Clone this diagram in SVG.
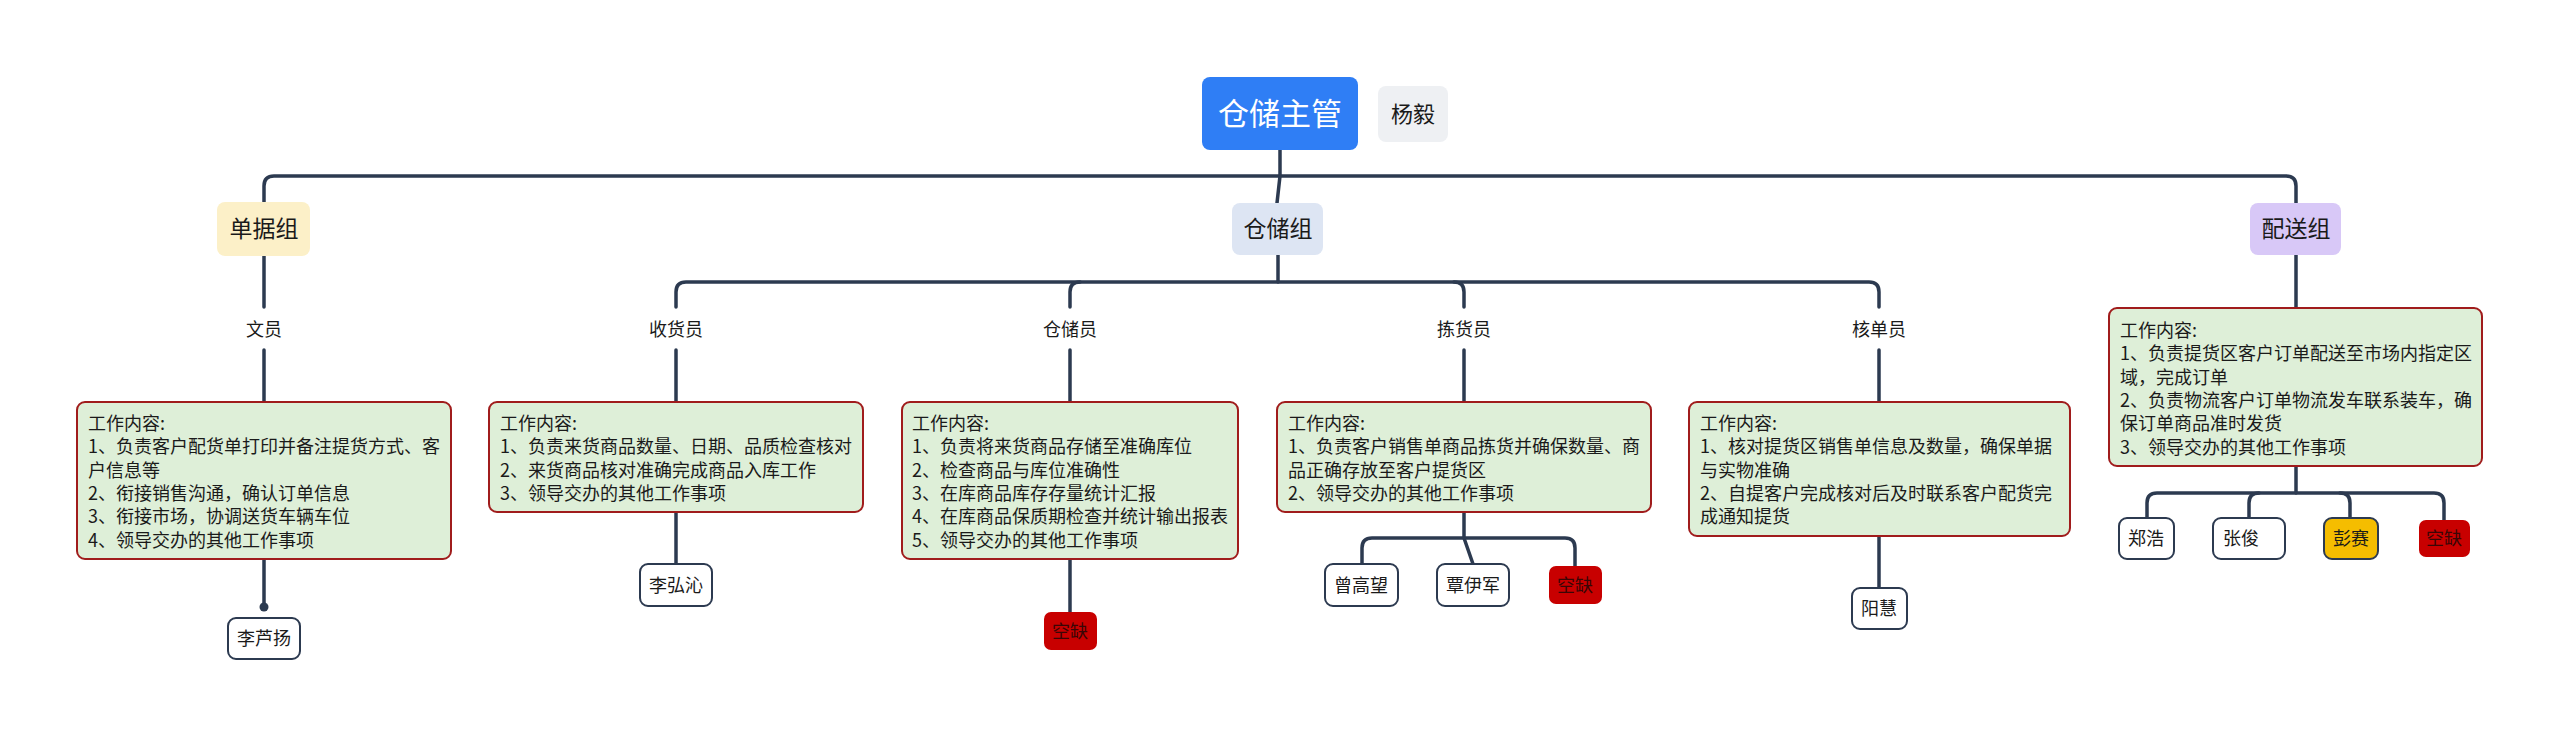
<svg xmlns="http://www.w3.org/2000/svg" width="2560" height="738" viewBox="0 0 2560 738">
<defs>
<style>
text{font-family:"Noto Sans CJK SC","Noto Sans",sans-serif;fill:#1a1a1a}
.c{fill:none;stroke:#2c3a50;stroke-width:3.5;stroke-linecap:round;stroke-linejoin:round}
.det{fill:#deefd8;stroke:#a01c1c;stroke-width:2}
.dt{font-size:18px}
.nm{fill:#ffffff;stroke:#2c3a50;stroke-width:2}
.nt{font-size:18px;text-anchor:middle}
.gap{fill:#c80000}
.gt{font-size:18px;text-anchor:middle;fill:#3a0606}
.role{font-size:18px;text-anchor:middle}
.grp{font-size:23px;text-anchor:middle}
</style>
</defs>
<rect width="2560" height="738" fill="#ffffff"/>

<g id="connectors">
<path class="c" d="M264,202 V186 Q264,176 274,176 H2286 Q2296,176 2296,186 V203"/>
<path class="c" d="M1280,150 V176 L1277,203"/>
<path class="c" d="M264,256 V307 M264,350 V402 M264,559 V607"/>
<circle cx="264" cy="607" r="4.5" fill="#2c3a50"/>
<path class="c" d="M1278,255 V282"/>
<path class="c" d="M676,307 V292 Q676,282 686,282 H1869 Q1879,282 1879,292 V307"/>
<path class="c" d="M1080,282 Q1070,282 1070,292 V307"/>
<path class="c" d="M1454,282 Q1464,282 1464,292 V307"/>
<path class="c" d="M676,350 V402 M1070,350 V402 M1464,350 V402 M1879,350 V402"/>
<path class="c" d="M676,512 V564"/>
<path class="c" d="M1070,559 V612"/>
<path class="c" d="M1464,512 V538 L1473,564"/>
<path class="c" d="M1362,564 V548 Q1362,538 1372,538 H1565 Q1575,538 1575,548 V566"/>
<path class="c" d="M1879,536 V588"/>
<path class="c" d="M2296,255 V308 M2296,466 V493"/>
<path class="c" d="M2147,518 V503 Q2147,493 2157,493 H2434 Q2444,493 2444,503 V520"/>
<path class="c" d="M2249,518 V503 Q2249,493 2259,493"/>
<path class="c" d="M2350,518 V503 Q2350,493 2340,493"/>
</g>

<g id="root">
<rect x="1202" y="77" width="156" height="73" rx="8" fill="#2f7ef5"/>
<text x="1280" y="125" font-size="31" text-anchor="middle" style="fill:#ffffff">仓储主管</text>
</g>
<g id="root-note">
<rect x="1378" y="86" width="70" height="56" rx="8" fill="#eef0f3"/>
<text x="1413" y="122" font-size="22" text-anchor="middle">杨毅</text>
</g>

<g id="group-docs">
<rect x="217" y="202" width="93" height="54" rx="8" fill="#fcf0c8"/>
<text class="grp" x="264" y="237">单据组</text>
</g>
<g id="group-storage">
<rect x="1232" y="203" width="91" height="52" rx="8" fill="#dde5f3"/>
<text class="grp" x="1278" y="237">仓储组</text>
</g>
<g id="group-delivery">
<rect x="2250" y="203" width="91" height="52" rx="8" fill="#d8c8f7"/>
<text class="grp" x="2296" y="237">配送组</text>
</g>

<g id="role-clerk"><text class="role" x="264" y="336">文员</text></g>
<g id="role-receiver"><text class="role" x="676" y="336">收货员</text></g>
<g id="role-keeper"><text class="role" x="1070" y="336">仓储员</text></g>
<g id="role-picker"><text class="role" x="1464" y="336">拣货员</text></g>
<g id="role-checker"><text class="role" x="1879" y="336">核单员</text></g>

<g id="duty-clerk">
<rect class="det" x="77" y="402" width="374" height="157" rx="8"/>
<text class="dt" x="88" y="430"><tspan x="88">工作内容:</tspan><tspan x="88" dy="23.3">1、负责客户配货单打印并备注提货方式、客</tspan><tspan x="88" dy="23.3">户信息等</tspan><tspan x="88" dy="23.3">2、衔接销售沟通，确认订单信息</tspan><tspan x="88" dy="23.3">3、衔接市场，协调送货车辆车位</tspan><tspan x="88" dy="23.3">4、领导交办的其他工作事项</tspan></text>
</g>
<g id="duty-receiver">
<rect class="det" x="489" y="402" width="374" height="110" rx="8"/>
<text class="dt" x="500" y="430"><tspan x="500">工作内容:</tspan><tspan x="500" dy="23.3">1、负责来货商品数量、日期、品质检查核对</tspan><tspan x="500" dy="23.3">2、来货商品核对准确完成商品入库工作</tspan><tspan x="500" dy="23.3">3、领导交办的其他工作事项</tspan></text>
</g>
<g id="duty-keeper">
<rect class="det" x="902" y="402" width="336" height="157" rx="8"/>
<text class="dt" x="912" y="430"><tspan x="912">工作内容:</tspan><tspan x="912" dy="23.3">1、负责将来货商品存储至准确库位</tspan><tspan x="912" dy="23.3">2、检查商品与库位准确性</tspan><tspan x="912" dy="23.3">3、在库商品库存存量统计汇报</tspan><tspan x="912" dy="23.3">4、在库商品保质期检查并统计输出报表</tspan><tspan x="912" dy="23.3">5、领导交办的其他工作事项</tspan></text>
</g>
<g id="duty-picker">
<rect class="det" x="1277" y="402" width="374" height="110" rx="8"/>
<text class="dt" x="1288" y="430"><tspan x="1288">工作内容:</tspan><tspan x="1288" dy="23.3">1、负责客户销售单商品拣货并确保数量、商</tspan><tspan x="1288" dy="23.3">品正确存放至客户提货区</tspan><tspan x="1288" dy="23.3">2、领导交办的其他工作事项</tspan></text>
</g>
<g id="duty-checker">
<rect class="det" x="1689" y="402" width="381" height="134" rx="8"/>
<text class="dt" x="1700" y="430"><tspan x="1700">工作内容:</tspan><tspan x="1700" dy="23.3">1、核对提货区销售单信息及数量，确保单据</tspan><tspan x="1700" dy="23.3">与实物准确</tspan><tspan x="1700" dy="23.3">2、自提客户完成核对后及时联系客户配货完</tspan><tspan x="1700" dy="23.3">成通知提货</tspan></text>
</g>
<g id="duty-delivery">
<rect class="det" x="2109" y="308" width="373" height="158" rx="8"/>
<text class="dt" x="2120" y="337"><tspan x="2120">工作内容:</tspan><tspan x="2120" dy="23.3">1、负责提货区客户订单配送至市场内指定区</tspan><tspan x="2120" dy="23.3">域，完成订单</tspan><tspan x="2120" dy="23.3">2、负责物流客户订单物流发车联系装车，确</tspan><tspan x="2120" dy="23.3">保订单商品准时发货</tspan><tspan x="2120" dy="23.3">3、领导交办的其他工作事项</tspan></text>
</g>

<g id="p-liluyang"><rect class="nm" x="228" y="618" width="72" height="41" rx="8"/><text class="nt" x="264" y="645">李芦扬</text></g>
<g id="p-lihongqin"><rect class="nm" x="640" y="564" width="72" height="42" rx="8"/><text class="nt" x="676" y="592">李弘沁</text></g>
<g id="p-vacant1"><rect class="gap" x="1044" y="612" width="53" height="38" rx="7"/><text class="gt" x="1070" y="638">空缺</text></g>
<g id="p-zenggaowang"><rect class="nm" x="1325" y="564" width="73" height="42" rx="8"/><text class="nt" x="1361" y="592">曾高望</text></g>
<g id="p-tanyijun"><rect class="nm" x="1437" y="564" width="72" height="42" rx="8"/><text class="nt" x="1473" y="592">覃伊军</text></g>
<g id="p-vacant2"><rect class="gap" x="1549" y="566" width="53" height="38" rx="7"/><text class="gt" x="1575" y="592">空缺</text></g>
<g id="p-yanghui"><rect class="nm" x="1852" y="588" width="55" height="41" rx="8"/><text class="nt" x="1879" y="615">阳慧</text></g>
<g id="p-zhenghao"><rect class="nm" x="2119" y="518" width="55" height="41" rx="8"/><text class="nt" x="2146" y="545">郑浩</text></g>
<g id="p-zhangjun"><rect class="nm" x="2213" y="518" width="72" height="41" rx="8"/><text class="dt" x="2223" y="545">张俊</text></g>
<g id="p-pengsai"><rect x="2324" y="518" width="54" height="41" rx="8" fill="#f5bd00" stroke="#2c3a50" stroke-width="2"/><text class="nt" x="2351" y="545">彭赛</text></g>
<g id="p-vacant3"><rect class="gap" x="2419" y="520" width="51" height="37" rx="7"/><text class="gt" x="2444" y="545">空缺</text></g>
</svg>
